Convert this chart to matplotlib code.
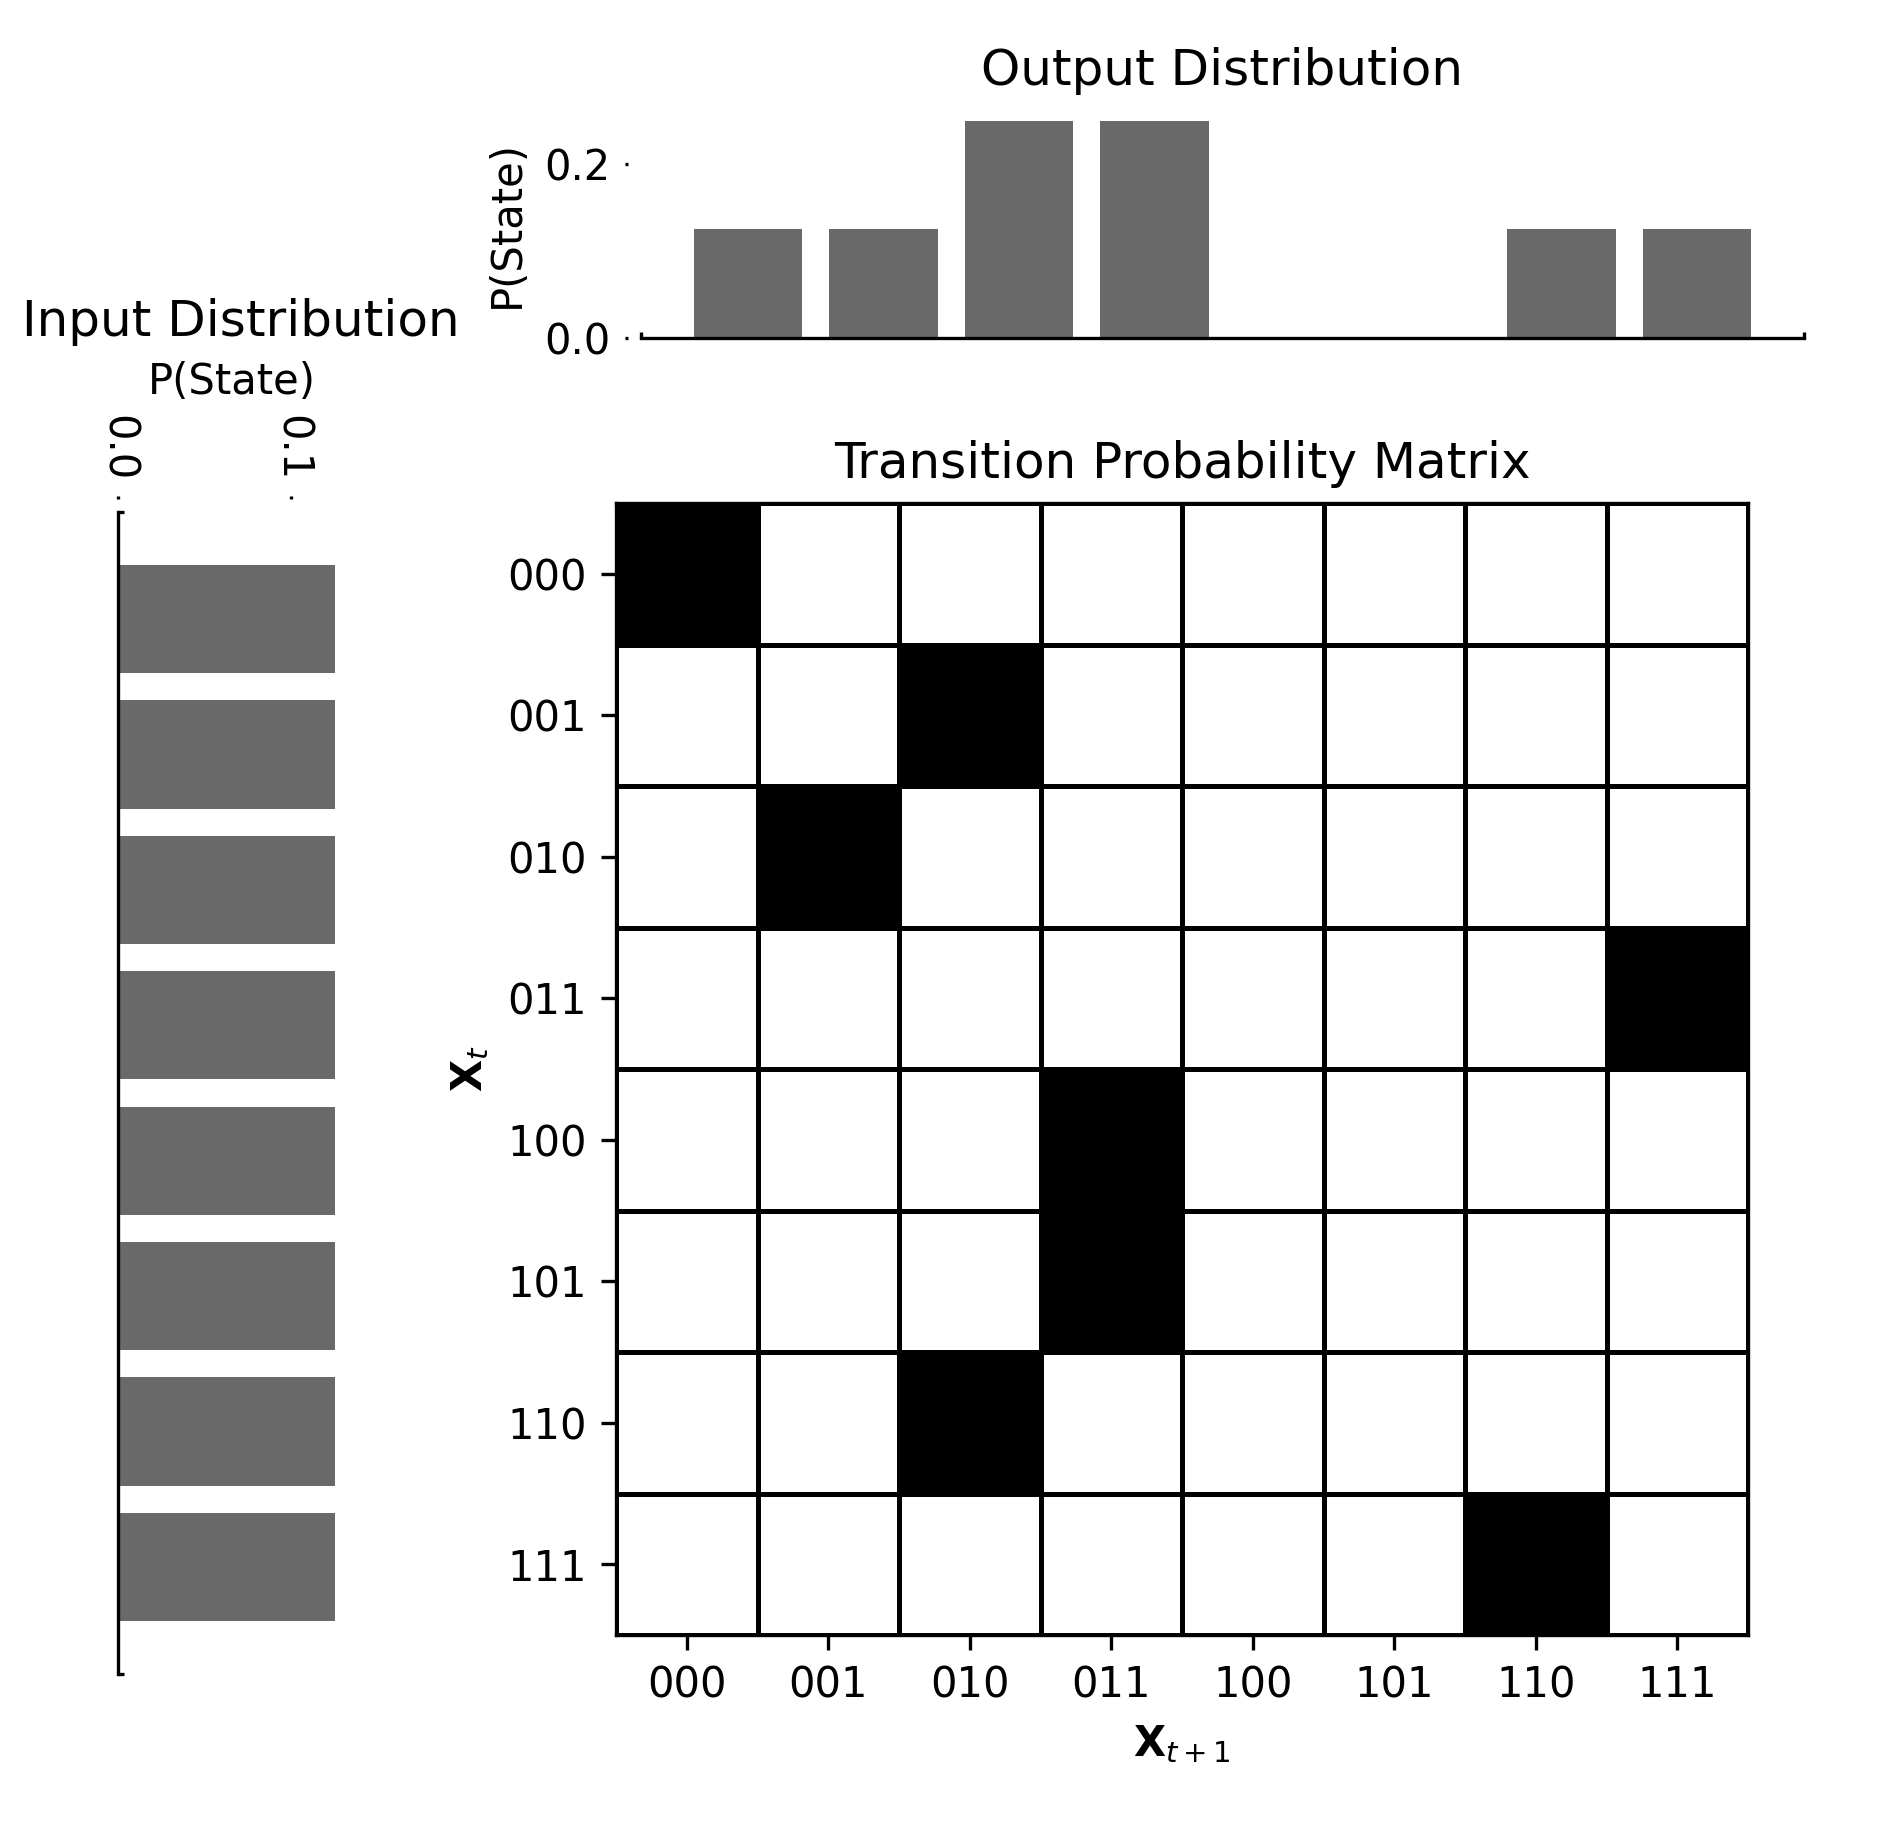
import numpy as np
import matplotlib
matplotlib.use('Agg')
import matplotlib.pyplot as plt

states = ['000', '001', '010', '011', '100', '101', '110', '111']

# transition matrix rows = X_t, cols = X_{t+1}
tpm = np.array([
    [1, 0, 0, 0, 0, 0, 0, 0],
    [0, 0, 1, 0, 0, 0, 0, 0],
    [0, 1, 0, 0, 0, 0, 0, 0],
    [0, 0, 0, 0, 0, 0, 0, 1],
    [0, 0, 0, 1, 0, 0, 0, 0],
    [0, 0, 0, 1, 0, 0, 0, 0],
    [0, 0, 1, 0, 0, 0, 0, 0],
    [0, 0, 0, 0, 0, 0, 1, 0],
])

p_in = [0.125, 0.125, 0.125, 0.125, 0.125, 0.125, 0.125, 0.125]
p_out = [0.125, 0.125, 0.25, 0.25, 0.0, 0.0, 0.125, 0.125]

bar_color = '#696969'

fig = plt.figure(figsize=(1888 / 300, 1824 / 300), dpi=300)

# --- transition matrix ---
ax = fig.add_axes([0.3263, 0.1036, 0.5996, 0.6206])
ax.pcolormesh(tpm, cmap='Greys', vmin=0, vmax=1, edgecolors='k', linewidth=0.8)
ax.set_xlim(0, 8)
ax.set_ylim(8, 0)
ax.set_xticks(np.arange(8) + 0.5)
ax.set_xticklabels(states)
ax.set_yticks(np.arange(8) + 0.5)
ax.set_yticklabels(states)
ax.tick_params(labelsize=10)
ax.set_xlabel(r'$\mathbf{X}_{t+1}$', fontsize=10)
ax.set_ylabel(r'$\mathbf{X}_t$', fontsize=10)
ax.set_title('Transition Probability Matrix', fontsize=12)

# --- output distribution ---
ax_out = fig.add_axes([0.3395, 0.8147, 0.6160, 0.1250])
ax_out.bar(np.arange(8), p_out, width=0.8, color=bar_color)
for s in ['top', 'right', 'left']:
    ax_out.spines[s].set_visible(False)
ax_out.spines['left'].set_position(('outward', 3))
ax_out.set_yticks([0.0, 0.2])
ax_out.tick_params(axis='y', length=0.8, labelsize=10)
xl = ax_out.get_xlim()
ax_out.set_xticks(xl)
ax_out.set_xticklabels([])
ax_out.tick_params(axis='x', direction='in', length=1.5)
ax_out.set_ylabel('P(State)', fontsize=10)
ax_out.set_title('Output Distribution', fontsize=12)

# --- input distribution ---
ax_in = fig.add_axes([0.0625, 0.0822, 0.1205, 0.6371])
ax_in.barh(np.arange(8), p_in, height=0.8, color=bar_color)
ax_in.invert_yaxis()
for s in ['top', 'right', 'bottom']:
    ax_in.spines[s].set_visible(False)
ax_in.spines['top'].set_position(('outward', 3))
ax_in.xaxis.set_ticks_position('top')
ax_in.xaxis.set_label_position('top')
ax_in.set_xticks([0.0, 0.1])
ax_in.set_xticklabels(['0.0', '0.1'], rotation=-90)
ax_in.tick_params(axis='x', length=0.8, labelsize=10)
yl = ax_in.get_ylim()
ax_in.set_yticks(yl)
ax_in.set_yticklabels([])
ax_in.tick_params(axis='y', direction='in', length=1.5)
ax_in.set_xlabel('P(State)', fontsize=10, labelpad=5)
ax_in.set_title('Input Distribution', fontsize=12, x=0.54, pad=6)

fig.savefig('out.png', dpi=300)
